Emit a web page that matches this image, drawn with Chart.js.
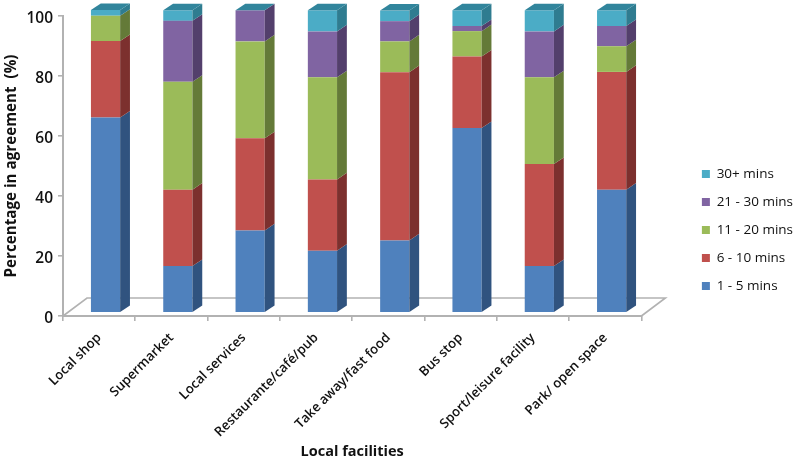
<!DOCTYPE html>
<html>
<head>
<meta charset="utf-8">
<style>
  html, body { margin: 0; padding: 0; background: #fff; }
  #wrap { width: 794px; height: 458px; }
</style>
<script src="https://cdn.jsdelivr.net/npm/chart.js@4/dist/chart.umd.min.js"></script>
</head>
<body>
<div id="wrap"><canvas id="chart" width="794" height="458"></canvas></div>
<script>
const categories = ['Local shop', 'Supermarket', 'Local services', 'Restaurante/café/pub',
  'Take away/fast food', 'Bus stop', 'Sport/leisure facility', 'Park/ open space'];

const mins1to5 = [64.4, 15.2, 27.0, 20.3, 23.7, 60.9, 15.2, 40.5];
const mins6to10 = [25.3, 25.3, 30.5, 23.6, 55.7, 23.7, 33.8, 39.0];
const mins11to20 = [8.4, 35.7, 32.1, 33.8, 10.2, 8.4, 28.7, 8.5];
const mins21to30 = [0, 20.2, 10.3, 15.2, 6.7, 1.7, 15.2, 6.7];
const mins30plus = [1.9, 3.5, 0, 7.0, 3.5, 5.2, 7.0, 5.2];

const fontFamily = '"Open Sans", sans-serif';
const axisGrey = '#b2b2b2';

// 3d look: how far the bars sit from the axes, and how deep they are
const barShift = { x: 6.4, y: 0 };
const depth = { x: 9.8, y: 6.6 };
const floorDepth = { x: 24, y: 18 };

const sideColors = ['#30537f', '#7c302e', '#647a38', '#533f6c', '#2f7c90'];
const topColor = '#31859c';

function face(ctx, color, pts) {
  ctx.fillStyle = color;
  ctx.beginPath();
  ctx.moveTo(pts[0][0], pts[0][1]);
  for (let i = 1; i < pts.length; i++) ctx.lineTo(pts[i][0], pts[i][1]);
  ctx.closePath();
  ctx.fill();
}

const bars3d = {
  id: 'bars3d',
  afterLayout(chart) {
    // legend sits further right and higher than the layout would put it
    const l = chart.legend;
    l.left += 46; l.right += 46;
    l.top -= 7; l.bottom -= 7;
  },
  afterUpdate(chart) {
    // Open Sans digits ride high, drop them onto their ticks
    chart.scales.y.getLabelItems().forEach(item => { item.options.translation[1] += 2.5; });
  },
  beforeDatasetsDraw(chart) {
    const ctx = chart.ctx;
    const a = chart.chartArea;
    // the floor outline
    ctx.save();
    ctx.strokeStyle = axisGrey;
    ctx.lineWidth = 1.6;
    ctx.beginPath();
    ctx.moveTo(a.left, a.bottom);
    ctx.lineTo(a.left + floorDepth.x, a.bottom - floorDepth.y);
    ctx.lineTo(a.right + floorDepth.x, a.bottom - floorDepth.y);
    ctx.lineTo(a.right, a.bottom);
    ctx.stroke();
    ctx.restore();
    ctx.save();
    ctx.translate(barShift.x, barShift.y);
  },
  afterDatasetsDraw(chart) {
    const ctx = chart.ctx;
    const last = chart.data.datasets.length - 1;
    chart.data.datasets.forEach((ds, i) => {
      chart.getDatasetMeta(i).data.forEach(bar => {
        const r = bar.x + bar.width / 2;
        const l = bar.x - bar.width / 2;
        face(ctx, sideColors[i], [[r, bar.base], [r + depth.x, bar.base - depth.y],
          [r + depth.x, bar.y - depth.y], [r, bar.y]]);
        if (i === last) {
          face(ctx, topColor, [[l, bar.y], [l + depth.x, bar.y - depth.y],
            [r + depth.x, bar.y - depth.y], [r, bar.y]]);
        }
      });
    });
    ctx.restore();
  }
};

function serie(label, data, color) {
  return { label: label, data: data, backgroundColor: color, yAxisID: 'yBars', clip: false,
    barPercentage: 0.404, categoryPercentage: 1 };
}

new Chart(document.getElementById('chart'), {
  type: 'bar',
  plugins: [bars3d],
  data: {
    labels: categories,
    datasets: [
      serie('1 - 5 mins', mins1to5, '#4f81bd'),
      serie('6 - 10 mins', mins6to10, '#c0504d'),
      serie('11 - 20 mins', mins11to20, '#9bbb59'),
      serie('21 - 30 mins', mins21to30, '#8064a2'),
      serie('30+ mins', mins30plus, '#4bacc6')
    ]
  },
  options: {
    responsive: false,
    animation: false,
    layout: { padding: { top: 16, left: 3, right: 37, bottom: 0 } },
    plugins: {
      tooltip: { enabled: false },
      legend: {
        position: 'right',
        reverse: true,
        labels: {
          boxWidth: 8, boxHeight: 8, padding: 14.5, color: '#111',
          font: { family: fontFamily, size: 13.5, weight: '400' }
        }
      }
    },
    scales: {
      x: {
        stacked: true,
        afterFit(scale) { scale.height = 142; },
        grid: { display: true, drawOnChartArea: false, color: axisGrey, lineWidth: 1.6, tickLength: 5 },
        border: { color: axisGrey, width: 2 },
        ticks: { color: '#111', maxRotation: 45, minRotation: 45, padding: 9,
          font: { family: fontFamily, size: 13.2, weight: '600' } },
        title: { display: true, text: 'Local facilities', color: '#111', padding: { top: 0, bottom: -3 },
          font: { family: fontFamily, size: 14.5, weight: '700' } }
      },
      y: {
        min: 0, max: 100,
        afterFit(scale) { scale.width = 60; },
        ticks: { stepSize: 20, color: '#111', padding: 5,
          font: { family: fontFamily, size: 15.5, weight: '600' } },
        grid: { display: true, drawOnChartArea: false, color: axisGrey, lineWidth: 1.6, tickLength: 5 },
        border: { color: axisGrey, width: 2 },
        title: { display: true, text: 'Percentage in agreement  (%)', color: '#111', padding: 0,
          font: { family: fontFamily, size: 15.2, weight: '700' } }
      },
      // the bars stand a little in front of the axis plane, so they get their own hidden scale
      yBars: {
        display: false, stacked: true,
        min: -1.325, max: 98.01
      }
    }
  }
});
</script>
</body>
</html>
